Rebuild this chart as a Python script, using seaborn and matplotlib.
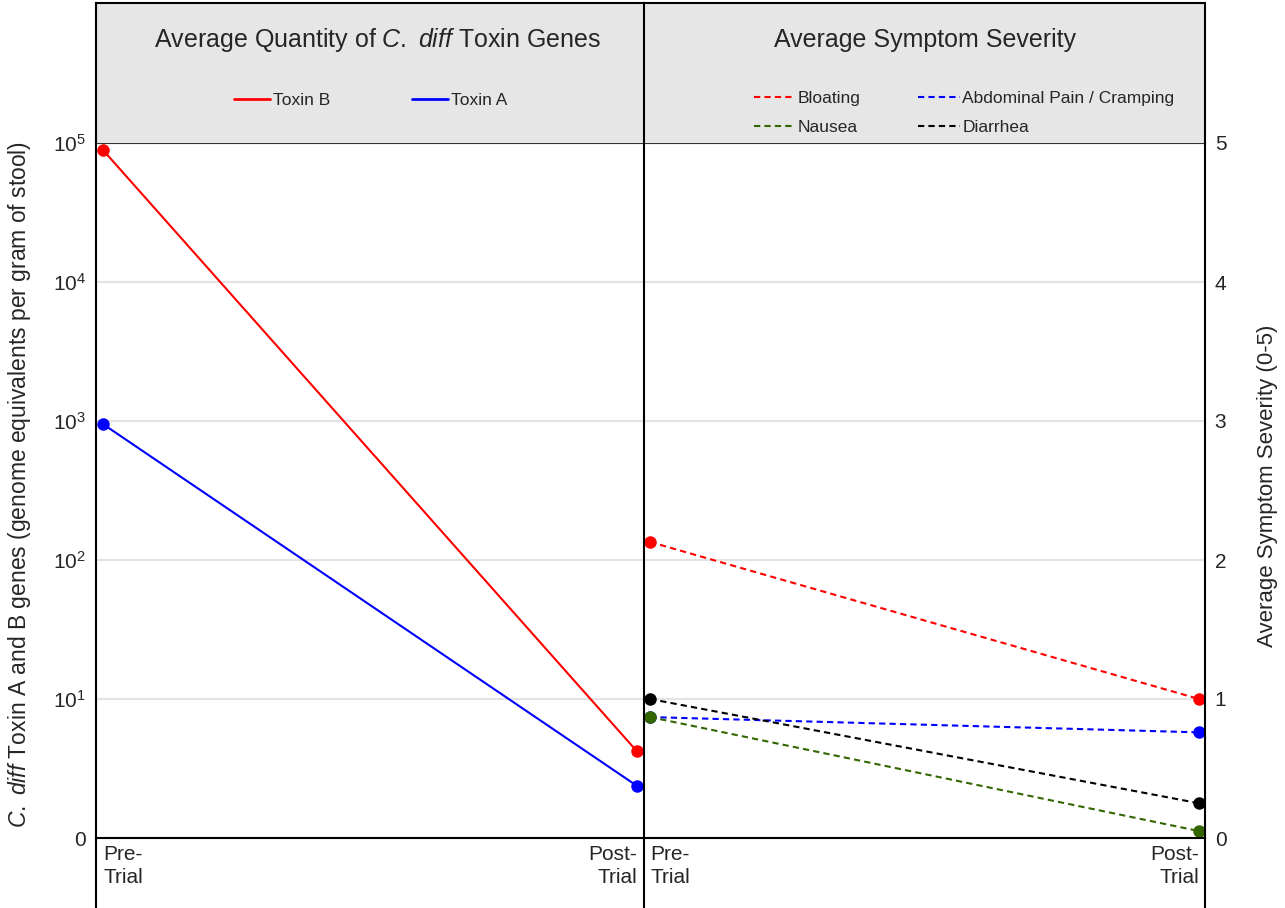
import numpy as np
import pandas as pd
import matplotlib.pyplot as plt
from matplotlib.lines import Line2D
import seaborn as sns

# valores
fases = ["Pre-\nTrial", "Post-\nTrial"]
toxinas = ["Toxin B", "Toxin A"]
toxina_b = [89000, 4.2]
toxina_a = [950, 2.37]

sintomas = ["Bloating", "Abdominal Pain / Cramping", "Diarrhea", "Nausea"]
bloating = [2.13, 1.0]
abdominal = [0.87, 0.76]
diarrhea = [1.0, 0.25]
nausea = [0.87, 0.05]

cores_tox = {"Toxin B": "#ff0000", "Toxin A": "#0000ff"}
cores_sint = {"Bloating": "#ff0000", "Abdominal Pain / Cramping": "#0000ff",
              "Diarrhea": "#000000", "Nausea": "#336600"}

sns.set_style("white")
plt.rcParams['font.family'] = ['Liberation Sans', 'DejaVu Sans']
plt.rcParams['mathtext.fontset'] = 'custom'
plt.rcParams['mathtext.rm'] = 'Liberation Sans'
plt.rcParams['mathtext.it'] = 'Liberation Sans:italic'

# dataframes longos
df_tox = pd.DataFrame({
    "fase": [0, 1, 0, 1],
    "gene": ["Toxin B", "Toxin B", "Toxin A", "Toxin A"],
    "valor": toxina_b + toxina_a,
})
df_sint = pd.DataFrame({
    "fase": [0, 1] * 4,
    "sintoma": [s for s in sintomas for _ in range(2)],
    "valor": bloating + abdominal + diarrhea + nausea,
})

W, H = 1285, 908
fig = plt.figure(figsize=(W / 100, H / 100), dpi=100)

def caixa(x0, y0, x1, y1):
    return [x0 / W, (H - y1) / H, (x1 - x0) / W, (y1 - y0) / H]

ax1 = fig.add_axes(caixa(96, 143, 644, 838))
ax2 = fig.add_axes(caixa(644, 143, 1205, 838))
cab1 = fig.add_axes(caixa(96, 3, 644, 143))
cab2 = fig.add_axes(caixa(644, 3, 1205, 143))

# painel esquerdo - toxinas
sns.lineplot(data=df_tox, x="fase", y="valor", hue="gene", palette=cores_tox,
             marker="o", markersize=9, markeredgewidth=0, linewidth=1.5,
             legend=False, ax=ax1, clip_on=False)
ax1.set_yscale("log")
ax1.set_ylim(1, 1e5)
ax1.set_yticks([1, 10, 100, 1e3, 1e4, 1e5])
ax1.set_yticklabels(["0", "$10^1$", "$10^2$", "$10^3$", "$10^4$", "$10^5$"])
ax1.minorticks_off()
ax1.set_xlim(-7 / 534, 1 + 7 / 534)

# painel direito - sintomas
sns.lineplot(data=df_sint, x="fase", y="valor", hue="sintoma", palette=cores_sint,
             marker="o", markersize=9, markeredgewidth=0, linewidth=1.5,
             legend=False, ax=ax2, clip_on=False)
for ln in ax2.get_lines():
    ln.set_dashes((3, 2))
ax2.set_ylim(0, 5)
ax2.set_yticks([0, 1, 2, 3, 4, 5])
ax2.yaxis.tick_right()
ax2.set_xlim(-6 / 548, 1 + 6 / 548)

for ax in (ax1, ax2):
    ax.set_xlabel("")
    ax.set_ylabel("")
    ax.yaxis.grid(True, color="#e3e3e3", linewidth=1.5)
    ax.set_axisbelow(True)
    ax.set_xticks([0, 1])
    ax.set_xticklabels(fases, fontsize=15, linespacing=1.3)
    ax.get_xticklabels()[0].set_ha("left")
    ax.get_xticklabels()[1].set_ha("right")
    ax.tick_params(axis="x", length=0, pad=5)
    ax.tick_params(axis="y", length=0, pad=7, labelsize=15)
    for s in ax.spines.values():
        s.set_color("black")
        s.set_linewidth(1.5)
    ax.spines["top"].set_linewidth(0.8)
    ax.spines["top"].set_color("#333333")
ax1.spines["right"].set_visible(False)

# cabeçalhos cinza
for cab in (cab1, cab2):
    cab.set_facecolor("#e6e6e6")
    cab.set_xticks([])
    cab.set_yticks([])
    for s in cab.spines.values():
        s.set_color("black")
        s.set_linewidth(1.5)
    cab.spines["bottom"].set_visible(False)
cab1.spines["right"].set_visible(False)

cab1.text(0.5 + 8 / 548, 1 - 37 / 140,
          r"Average Quantity of $\mathit{C.}$ $\mathit{diff}$ Toxin Genes",
          ha="center", va="center", fontsize=18, transform=cab1.transAxes)
cab2.text(0.5, 1 - 37 / 140, "Average Symptom Severity",
          ha="center", va="center", fontsize=18, transform=cab2.transAxes)

h_tox = [Line2D([], [], color=cores_tox[t], lw=2) for t in toxinas]
cab1.legend(h_tox, toxinas, ncol=2, frameon=False, fontsize=12.5,
            handlelength=2.1, handletextpad=0.15, columnspacing=4.7,
            loc="center left", bbox_to_anchor=((229 - 96) / 548 - 0.02, 1 - 97 / 140))

ordem = ["Bloating", "Nausea", "Abdominal Pain / Cramping", "Diarrhea"]
h_sint = [Line2D([], [], color=cores_sint[s], lw=1.5, dashes=(3, 2)) for s in ordem]
cab2.legend(h_sint, ordem, ncol=2, frameon=False, fontsize=12.5,
            handlelength=2.4, handletextpad=0.15, columnspacing=3.3, labelspacing=0.8,
            loc="center left", bbox_to_anchor=((748 - 644) / 561 - 0.018, 1 - 110 / 140))

# linhas verticais abaixo do eixo
for x in (96, 644, 1205):
    fig.add_artist(Line2D([x / W, x / W], [0, (H - 838) / H], color="black",
                          lw=1.5, transform=fig.transFigure))

fig.text(20 / W, 1 - 484 / H,
         r"$\mathit{C.}$ $\mathit{diff}$ Toxin A and B genes (genome equivalents per gram of stool)",
         rotation=90, ha="center", va="center", fontsize=16.5)
fig.text(1268 / W, 1 - 486 / H, "Average Symptom Severity (0-5)",
         rotation=90, ha="center", va="center", fontsize=16)

fig.savefig("out.png", dpi=100)
